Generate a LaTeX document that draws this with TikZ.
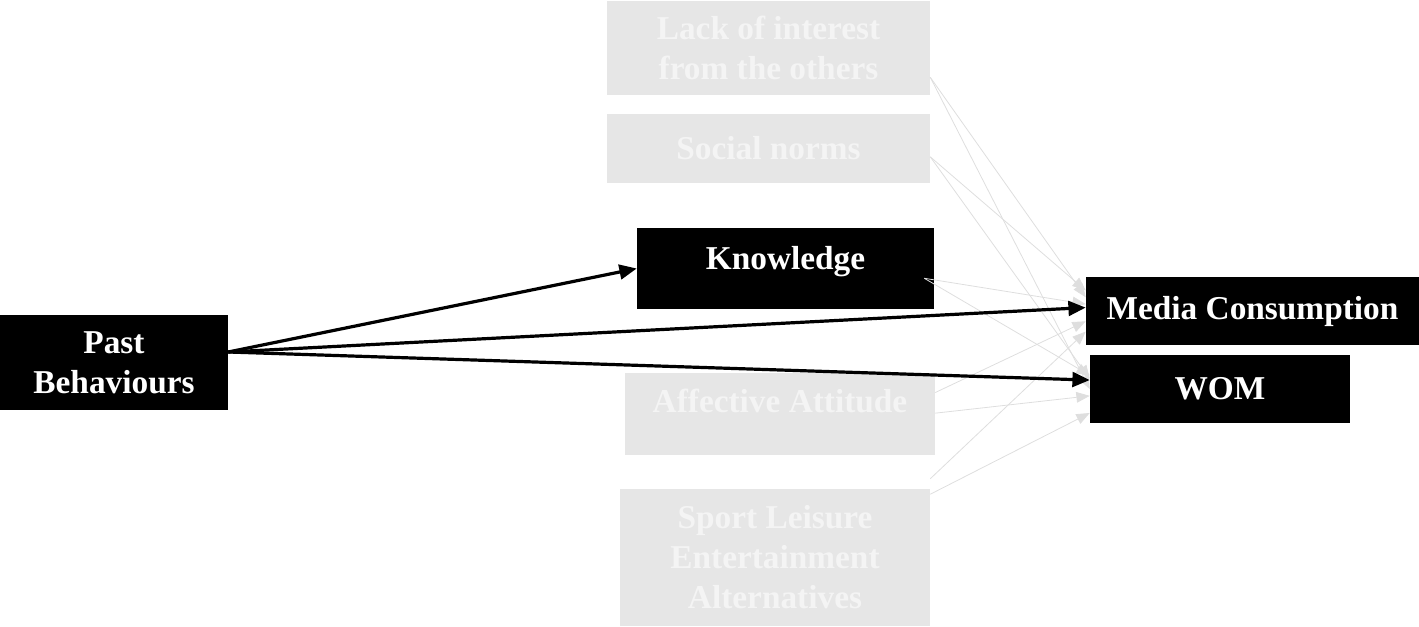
\documentclass[tikz,border=0pt]{standalone}
\usepackage{fontspec}
\setmainfont{Liberation Serif}
\usetikzlibrary{arrows.meta,calc}
\definecolor{boxgray}{HTML}{E6E6E6}
\definecolor{txtgray}{HTML}{F4F4F4}
\definecolor{linegray}{HTML}{DEDEDE}
\tikzset{
  base/.style={rectangle, inner sep=0pt, align=center, font=\fontsize{25}{30}\selectfont\bfseries},
  blackbox/.style={base, fill=black, text=white},
  graybox/.style={base, fill=boxgray, text=txtgray},
  lbl/.style={inner sep=0pt, anchor=base, font=\fontsize{25}{30}\selectfont\bfseries},
  mainarrow/.style={line width=2.4pt, -{Triangle[length=13pt,width=11pt]}},
  faintarrow/.style={draw=linegray, line width=0.6pt, -{Triangle[length=10pt,width=8pt,fill=linegray]}}
}
\begin{document}
\begin{tikzpicture}[x=0.75pt,y=-0.75pt]
\useasboundingbox (0,0) rectangle (1419,627);
% boxes
\node[graybox, minimum width=242.25pt, minimum height=70.5pt] (lack) at (768.5,48) {Lack of interest\\from the others};
\node[graybox, minimum width=242.25pt, minimum height=51.75pt] (social) at (768.5,148.5) {Social norms};
\node[blackbox, minimum width=222.75pt, minimum height=60.75pt] (know) at (785.5,268.5) {};
\node[lbl, text=white] (knowtxt) at (785.5,269) {Knowledge};
\node[blackbox, minimum width=171pt, minimum height=71.25pt] (past) at (114,362.5) {Past\\Behaviours};
\node[graybox, minimum width=232.5pt, minimum height=61.5pt] (affect) at (780,414) {};
\node[lbl, text=txtgray] (affecttxt) at (780,412) {Affective Attitude};
\node[graybox, minimum width=232.5pt, minimum height=102.75pt] (sport) at (775,557.5) {Sport Leisure\\Entertainment\\Alternatives};
\node[blackbox, minimum width=249.75pt, minimum height=51pt] (media) at (1252.5,311) {Media Consumption};
\node[blackbox, minimum width=195pt, minimum height=51pt] (wom) at (1220,389) {WOM};
% faint arrows
\draw[faintarrow] ($(lack.north east)!0.81!(lack.south east)$) -- ($(wom.north west)!0.5!(wom.south west)$);
\draw[faintarrow] ($(lack.north east)!0.81!(lack.south east)$) -- ($(media.north west)!0.3!(media.south west)$);
\draw[faintarrow] ($(social.north east)!0.62!(social.south east)$) -- ($(media.north west)!0.2!(media.south west)$);
\draw[faintarrow] ($(social.north east)!0.62!(social.south east)$) -- ($(wom.north west)!0.35!(wom.south west)$);
\draw[faintarrow] ($(know.north east)!0.62!(know.south east)+(-10,0)$) -- ($(media.north west)!0.4!(media.south west)$);
\draw[faintarrow] ($(know.north east)!0.62!(know.south east)+(-10,0)$) -- ($(wom.north west)!0.3!(wom.south west)$);
\draw[faintarrow] ($(affect.north east)!0.24!(affect.south east)$) -- ($(media.north west)!0.65!(media.south west)$);
\draw[faintarrow] ($(affect.north east)!0.49!(affect.south east)$) -- ($(wom.north west)!0.6!(wom.south west)$);
\draw[faintarrow] ($(sport.north east)+(0,-10)$) -- ($(media.north west)!0.8!(media.south west)$);
\draw[faintarrow] ($(sport.north east)!0.04!(sport.south east)$) -- ($(wom.north west)!0.85!(wom.south west)$);
% main arrows
\draw[mainarrow] ($(past.north east)!0.39!(past.south east)$) -- (know.west);
\draw[mainarrow] ($(past.north east)!0.39!(past.south east)$) -- ($(media.north west)!0.45!(media.south west)$);
\draw[mainarrow] ($(past.north east)!0.39!(past.south east)$) -- ($(wom.north west)!0.37!(wom.south west)$);
\end{tikzpicture}
\end{document}
